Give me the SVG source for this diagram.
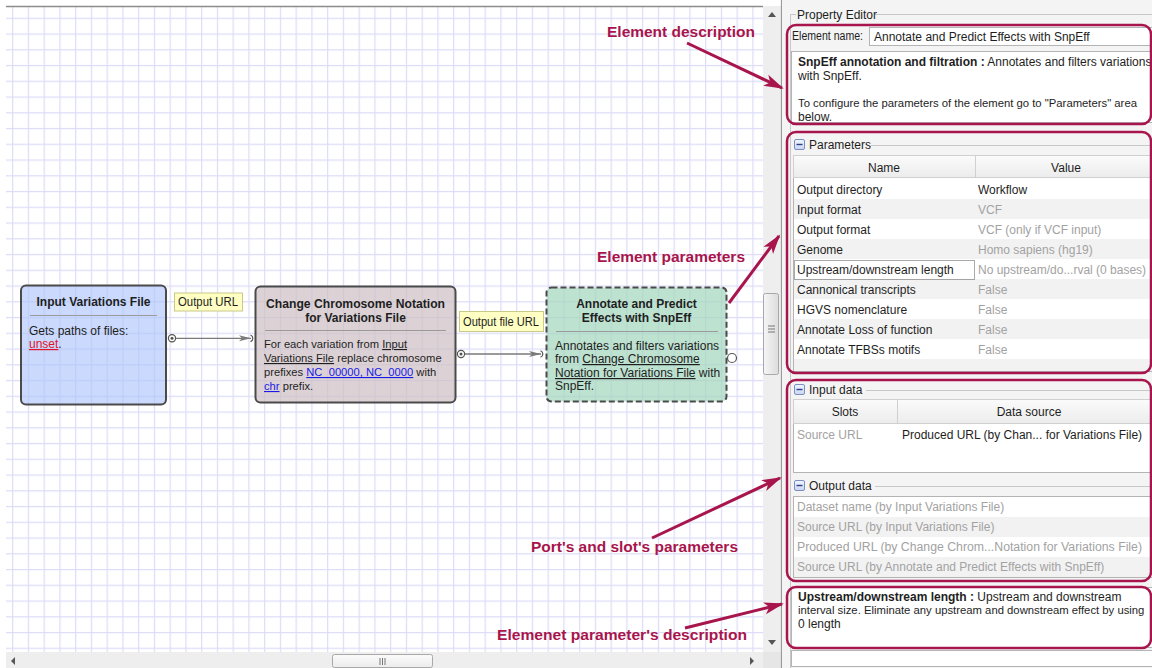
<svg xmlns="http://www.w3.org/2000/svg" width="1152" height="668" viewBox="0 0 1152 668">
<style>
.t{font-family:"Liberation Sans",Arial,sans-serif;font-size:12px;fill:#1e1e1e}
.s{font-size:11.2px}
.n{font-size:11.3px}
.b{font-weight:bold}
.g{fill:#a2a2a2}
.ul{text-decoration:underline}
.lnk{fill:#1a1ae6;text-decoration:underline}
.ann{font-family:"Liberation Sans",Arial,sans-serif;font-size:15.5px;font-weight:bold;fill:#a8154c}
.red{fill:none;stroke:#a8154c;stroke-width:2.5}
.arr{stroke:#a8154c;stroke-width:3;fill:none;marker-end:url(#ah)}
.node{stroke:#4a4a4a;stroke-width:2}
.sep{stroke:#9a9a9a;stroke-width:1}
.conn{stroke:#7a7a7a;stroke-width:1.3;fill:none;marker-end:url(#ch)}
.lbl{fill:#ffffc4;stroke:#c9c98a;stroke-width:1}
.port{fill:#fff;stroke:#555;stroke-width:1.2}
.box{fill:#fff;stroke:#b4b4b4;stroke-width:1}
.hdr{fill:url(#hg);stroke:#d0d0d0;stroke-width:1}
.alt{fill:#f2f2f2}
.gb{stroke:#c8c8c8;stroke-width:1;fill:none}
.sb{fill:#eeeeee}
.thumb{fill:url(#tg);stroke:#a8a8a8;stroke-width:1}
</style>
<defs>
<pattern id="grid" x="12.1" y="17.7" width="15.75" height="15.75" patternUnits="userSpaceOnUse">
<path d="M0.6,0 V15.75 M0,0.6 H15.75" stroke="#dcdcf8" stroke-width="1.2" fill="none"/>
</pattern>
<linearGradient id="hg" x1="0" y1="0" x2="0" y2="1"><stop offset="0" stop-color="#fbfbfb"/><stop offset="1" stop-color="#ececec"/></linearGradient>
<linearGradient id="tg" x1="0" y1="0" x2="1" y2="0"><stop offset="0" stop-color="#f6f6f6"/><stop offset="1" stop-color="#dcdcdc"/></linearGradient>
<linearGradient id="mg" x1="0" y1="0" x2="0" y2="1"><stop offset="0" stop-color="#f2f6ff"/><stop offset="1" stop-color="#c9d6f2"/></linearGradient>
<marker id="ah" markerUnits="userSpaceOnUse" markerWidth="22" markerHeight="14" refX="18" refY="7" orient="auto">
<path d="M0,1 L20,7 L0,13 L5,7 Z" fill="#a8154c"/>
</marker>
<marker id="ch" markerUnits="userSpaceOnUse" markerWidth="14" markerHeight="8" refX="12" refY="4" orient="auto">
<path d="M0,1 L12,4 L0,7 L3,4 Z" fill="#7a7a7a"/>
</marker>
<g id="minus"><rect x="0.5" y="0.5" width="10" height="10" rx="1.5" fill="url(#mg)" stroke="#7b8fc2"/><path d="M2.5,5.5 H8.5" stroke="#2c3f8a" stroke-width="1.4"/></g>
</defs>

<rect x="0" y="0" width="1152" height="668" fill="#ffffff"/>
<!-- canvas -->
<rect x="6" y="6" width="757" height="646" fill="url(#grid)"/>
<path d="M6,6.5 H763" stroke="#8c8c8c" stroke-width="1.5"/>

<!-- canvas scrollbars -->
<rect class="sb" x="763" y="6" width="18" height="646"/>
<path d="M768,17 L772,12 L776,17 Z" fill="#555"/>
<path d="M768,640 L772,645 L776,640 Z" fill="#555"/>
<rect class="thumb" x="763.5" y="293.5" width="15" height="81" rx="2"/>
<path d="M768,326 H775 M768,329 H775 M768,332 H775" stroke="#777" stroke-width="1"/>
<rect class="sb" x="6" y="652" width="757" height="16"/>
<path d="M15,657 L11,661 L15,665 Z" fill="#555"/>
<path d="M750,657 L754,661 L750,665 Z" fill="#555"/>
<rect x="332.5" y="654.5" width="100" height="13" rx="2" fill="url(#hg)" stroke="#a8a8a8"/>
<path d="M380,658 V665 M382.5,658 V665 M385,658 V665" stroke="#777" stroke-width="1"/>
<rect x="763" y="652" width="18" height="16" fill="#e6e6e6"/>
<path d="M781.5,0 V668" stroke="#9a9a9a" stroke-width="1.2"/>

<!-- property panel -->
<rect x="782" y="0" width="370" height="668" fill="#f4f4f4"/>
<path d="M796,14.5 H790.5 V668 M875,14.5 H1152" class="gb"/>
<text class="t" x="797" y="19">Property Editor</text>

<g id="element-name">
<text class="t" x="792" y="40" textLength="71" lengthAdjust="spacingAndGlyphs">Element name:</text>
<rect class="box" x="869.5" y="27.5" width="284" height="18"/>
<text class="t" x="874" y="41">Annotate and Predict Effects with SnpEff</text>
</g>
<g id="element-description">
<rect class="box" x="791.5" y="51.5" width="362" height="71"/>
<text class="t" x="798" y="66"><tspan class="b">SnpEff annotation and filtration :</tspan> Annotates and filters variations</text>
<text class="t" x="798" y="80">with SnpEff.</text>
<text class="t n" x="798" y="107">To configure the parameters of the element go to "Parameters" area</text>
<text class="t" x="798" y="121">below.</text>
</g>

<g id="parameters">
<use href="#minus" x="794" y="139"/>
<text class="t" x="809" y="149">Parameters</text>
<path class="gb" d="M871,145.5 H1152"/>
<rect x="793.5" y="155.5" width="360" height="216" fill="#fff" stroke="#b4b4b4"/>
<rect class="hdr" x="793.5" y="155.5" width="182" height="22"/>
<rect class="hdr" x="975.5" y="155.5" width="178" height="22"/>
<text class="t" x="884" y="172" text-anchor="middle">Name</text>
<text class="t" x="1066" y="172" text-anchor="middle">Value</text>
<rect class="alt" x="794" y="199" width="359" height="20"/>
<rect class="alt" x="794" y="239" width="359" height="20"/>
<rect class="alt" x="794" y="279" width="359" height="20"/>
<rect class="alt" x="794" y="319" width="359" height="20"/>
<rect class="alt" x="794" y="359" width="359" height="12"/>
<rect x="794.5" y="260.5" width="180" height="19" fill="none" stroke="#555" stroke-width="1" stroke-dasharray="1,1"/>
<text class="t" x="797" y="194">Output directory</text>
<text class="t" x="978" y="194">Workflow</text>
<text class="t" x="797" y="214">Input format</text>
<text class="t g" x="978" y="214">VCF</text>
<text class="t" x="797" y="234">Output format</text>
<text class="t g" x="978" y="234">VCF (only if VCF input)</text>
<text class="t" x="797" y="254">Genome</text>
<text class="t g" x="978" y="254">Homo sapiens (hg19)</text>
<text class="t" x="797" y="274">Upstream/downstream length</text>
<text class="t g" x="978" y="274">No upstream/do...rval (0 bases)</text>
<text class="t" x="797" y="294">Cannonical transcripts</text>
<text class="t g" x="978" y="294">False</text>
<text class="t" x="797" y="314">HGVS nomenclature</text>
<text class="t g" x="978" y="314">False</text>
<text class="t" x="797" y="334">Annotate Loss of function</text>
<text class="t g" x="978" y="334">False</text>
<text class="t" x="797" y="354">Annotate TFBSs motifs</text>
<text class="t g" x="978" y="354">False</text>
</g>

<g id="input-data">
<use href="#minus" x="794" y="384"/>
<text class="t" x="809" y="394">Input data</text>
<path class="gb" d="M866,390.5 H1152"/>
<rect x="793.5" y="399.5" width="360" height="73" fill="#fff" stroke="#b4b4b4"/>
<rect class="hdr" x="793.5" y="399.5" width="104" height="24"/>
<rect class="hdr" x="897.5" y="399.5" width="256" height="24"/>
<text class="t" x="845" y="416" text-anchor="middle">Slots</text>
<text class="t" x="1029" y="416" text-anchor="middle">Data source</text>
<text class="t g" x="797" y="439">Source URL</text>
<text class="t" x="902" y="439">Produced URL (by Chan... for Variations File)</text>
</g>

<g id="output-data">
<use href="#minus" x="794" y="480"/>
<text class="t" x="809" y="490">Output data</text>
<path class="gb" d="M875,486.5 H1152"/>
<rect x="793.5" y="496.5" width="360" height="81" fill="#fff" stroke="#b4b4b4"/>
<rect class="alt" x="794" y="517" width="359" height="20"/>
<rect class="alt" x="794" y="557" width="359" height="20"/>
<text class="t g" x="797" y="511">Dataset name (by Input Variations File)</text>
<text class="t g" x="797" y="531">Source URL (by Input Variations File)</text>
<text class="t g" x="797" y="551" textLength="345" lengthAdjust="spacingAndGlyphs">Produced URL (by Change Chrom...Notation for Variations File)</text>
<text class="t g" x="797" y="571">Source URL (by Annotate and Predict Effects with SnpEff)</text>
</g>

<g id="parameter-description">
<rect class="box" x="791.5" y="587.5" width="362" height="60"/>
<text class="t" x="798" y="601"><tspan class="b">Upstream/downstream length :</tspan> Upstream and downstream</text>
<text class="t n" x="798" y="614">interval size. Eliminate any upstream and downstream effect by using</text>
<text class="t" x="798" y="628">0 length</text>
<rect class="box" x="791.5" y="650.5" width="362" height="16"/>
</g>

<!-- highlight boxes -->
<g id="highlights">
<rect class="red" x="787" y="25" width="364" height="99" rx="9"/>
<rect class="red" x="787" y="132" width="364" height="241" rx="9"/>
<rect class="red" x="787" y="380" width="364" height="201" rx="9"/>
<rect class="red" x="787" y="587" width="364" height="61" rx="9"/>
</g>

<!-- nodes -->
<g id="node-input">
<rect class="node" x="21" y="285.5" width="145" height="119" rx="5" fill="#aec5fa" fill-opacity="0.65"/>
<text class="t b" x="93.5" y="306" text-anchor="middle">Input Variations File</text>
<path class="sep" d="M30,315.5 H157"/>
<text class="t" x="29" y="335">Gets paths of files:</text>
<text class="t" x="29" y="348"><tspan fill="#e0142c" class="ul">unset</tspan>.</text>
</g>

<g id="node-change">
<rect class="node" x="255.5" y="286.5" width="200" height="116" rx="5" fill="#cdbfc3" fill-opacity="0.7"/>
<text class="t b" x="355.5" y="308" text-anchor="middle" textLength="179" lengthAdjust="spacingAndGlyphs">Change Chromosome Notation</text>
<text class="t b" x="355.5" y="322" text-anchor="middle">for Variations File</text>
<path class="sep" d="M265,330.5 H446"/>
<text class="t s" x="264" y="348">For each variation from <tspan class="ul">Input</tspan></text>
<text class="t s" x="264" y="362"><tspan class="ul">Variations File</tspan> replace chromosome</text>
<text class="t s" x="264" y="376">prefixes <tspan class="lnk">NC_00000, NC_0000</tspan> with</text>
<text class="t s" x="264" y="390"><tspan class="lnk">chr</tspan> prefix.</text>
</g>

<g id="node-snpeff">
<rect class="node" x="546.5" y="287.5" width="180" height="114" rx="5" fill="#a3d5bc" fill-opacity="0.7" stroke-dasharray="6,3"/>
<text class="t b" x="636.5" y="308" text-anchor="middle">Annotate and Predict</text>
<text class="t b" x="636.5" y="322" text-anchor="middle">Effects with SnpEff</text>
<path class="sep" d="M556,331.5 H718"/>
<text class="t" x="555" y="350">Annotates and filters variations</text>
<text class="t" x="555" y="363">from <tspan class="ul">Change Chromosome</tspan></text>
<text class="t" x="555" y="377"><tspan class="ul">Notation for Variations File</tspan> with</text>
<text class="t" x="555" y="390">SnpEff.</text>
<circle class="port" cx="732" cy="358" r="4.5"/>
</g>

<!-- connectors -->
<g id="connectors">
<circle class="port" cx="172" cy="338.3" r="3.6"/>
<circle cx="172" cy="338.3" r="1.5" fill="#555"/>
<path class="conn" d="M176,338.3 H251"/>
<path d="M250.5,335 A3.5,3.5 0 0 1 250.5,341.6" fill="none" stroke="#555" stroke-width="1.2"/>
<rect class="lbl" x="174.5" y="293" width="68" height="18"/>
<text class="t" x="178" y="306" fill="#3a3a3a" textLength="60" lengthAdjust="spacingAndGlyphs">Output URL</text>

<circle class="port" cx="461" cy="354" r="3.6"/>
<circle cx="461" cy="354" r="1.5" fill="#555"/>
<path class="conn" d="M465,354 H541"/>
<path d="M540.5,350.7 A3.5,3.5 0 0 1 540.5,357.3" fill="none" stroke="#555" stroke-width="1.2"/>
<rect class="lbl" x="459.5" y="311.5" width="84" height="20"/>
<text class="t" x="463" y="326" fill="#3a3a3a" textLength="76" lengthAdjust="spacingAndGlyphs">Output file URL</text>
</g>

<!-- annotations -->
<g id="annotations">
<text class="ann" x="607" y="37" textLength="148" lengthAdjust="spacingAndGlyphs">Element description</text>
<path class="arr" d="M687,43 L782,88"/>
<text class="ann" x="597" y="262" textLength="148" lengthAdjust="spacingAndGlyphs">Element parameters</text>
<path class="arr" d="M729,303 L779,236"/>
<text class="ann" x="531" y="552" textLength="207" lengthAdjust="spacingAndGlyphs">Port's and slot's parameters</text>
<path class="arr" d="M652,538 L780,478"/>
<text class="ann" x="497" y="640" textLength="250" lengthAdjust="spacingAndGlyphs">Elemenet parameter's description</text>
<path class="arr" d="M685,628 L782,604"/>
</g>
</svg>
